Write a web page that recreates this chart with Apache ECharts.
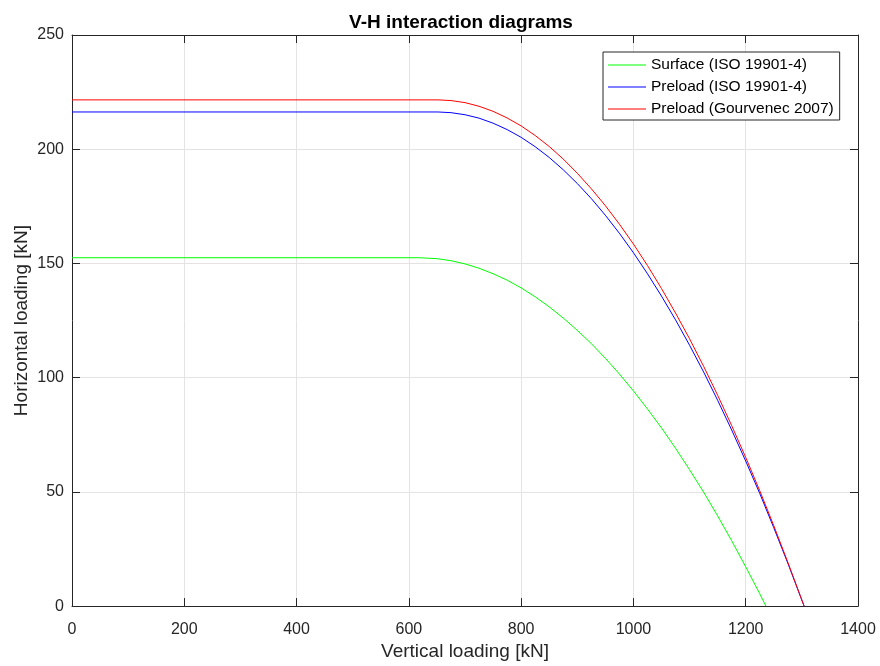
<!DOCTYPE html>
<html>
<head>
<meta charset="utf-8">
<script src="https://cdn.jsdelivr.net/npm/echarts@6/dist/echarts.min.js"></script>
<style>html,body{margin:0;padding:0;background:#fff}#c{width:880px;height:666px}</style>
</head>
<body>
<div id="c"></div>
<script>
// Values
var xTicks = [0, 200, 400, 600, 800, 1000, 1200, 1400];
var yTicks = [0, 50, 100, 150, 200, 250];

var surfaceV = [0, 618, 650, 675, 700, 725, 750, 775, 800, 825, 850, 875, 900, 925, 950, 975, 1000, 1025, 1050, 1075, 1100, 1125, 1150, 1175, 1200, 1225, 1236];
var surfaceH = [152.5, 152.5, 152.1, 151.2, 149.8, 147.9, 145.5, 142.7, 139.3, 135.4, 131.0, 126.1, 120.7, 114.9, 108.5, 101.6, 94.2, 86.3, 78.0, 69.1, 59.7, 49.9, 39.5, 28.6, 17.2, 5.4, 0];

var preloadIsoV = [0, 652, 675, 700, 725, 750, 775, 800, 825, 850, 875, 900, 925, 950, 975, 1000, 1025, 1050, 1075, 1100, 1125, 1150, 1175, 1200, 1225, 1250, 1275, 1304];
var preloadIsoH = [216.3, 216.3, 216.0, 215.1, 213.6, 211.4, 208.6, 205.2, 201.1, 196.4, 191.0, 185.0, 178.4, 171.1, 163.2, 154.7, 145.5, 135.7, 125.3, 114.2, 102.5, 90.1, 77.1, 63.5, 49.3, 34.3, 18.8, 0];

var preloadGouV = [0, 652, 675, 700, 725, 750, 775, 800, 825, 850, 875, 900, 925, 950, 975, 1000, 1025, 1050, 1075, 1100, 1125, 1150, 1175, 1200, 1225, 1250, 1275, 1304];
var preloadGouH = [221.6, 221.6, 221.3, 220.4, 218.8, 216.6, 213.7, 210.2, 206.0, 201.2, 195.7, 189.5, 182.7, 175.3, 167.2, 158.5, 149.1, 139.0, 128.3, 117.0, 105.0, 92.3, 79.0, 65.1, 50.5, 35.2, 19.2, 0];

var seriesNames = ['Surface (ISO 19901-4)', 'Preload (ISO 19901-4)', 'Preload (Gourvenec 2007)'];
var seriesColors = ['#00ff00', '#0000ff', '#ff0000'];

function pairs(xs, ys) { return xs.map(function (x, i) { return [x, ys[i]]; }); }

var FONT = 'Liberation Sans, Arial, Helvetica, sans-serif';
var TXT = '#262626';

var chart = echarts.init(document.getElementById('c'), null, {renderer: 'canvas'});
var xMin = xTicks[0], xMax = xTicks[xTicks.length - 1], xInt = xTicks[1] - xTicks[0];
var yMin = yTicks[0], yMax = yTicks[yTicks.length - 1], yInt = yTicks[1] - yTicks[0];

var hiddenAxisCommon = {
  axisLabel: {show: false}, splitLine: {show: false},
  axisLine: {show: true, onZero: false, lineStyle: {color: TXT, width: 1}},
  axisTick: {show: true, inside: true, length: 8, lineStyle: {color: TXT}}
};

chart.setOption({
  animation: false,
  backgroundColor: '#ffffff',
  textStyle: {fontFamily: FONT},
  title: {
    text: 'V-H interaction diagrams', left: 456, top: 8, textAlign: 'center',
    textStyle: {fontFamily: FONT, fontSize: 19, fontWeight: 'bold', color: '#000'}
  },
  legend: {
    left: 603, top: 52, orient: 'vertical',
    data: seriesNames.map(function (n, i) { return {name: n, icon: 'rect', itemStyle: {color: seriesColors[i]}}; }),
    itemWidth: 38, itemHeight: 1.2, itemGap: 6,
    padding: [5, 6, 3, 5],
    backgroundColor: '#fff', borderColor: TXT, borderWidth: 1,
    textStyle: {fontFamily: FONT, fontSize: 15.5, lineHeight: 16, color: '#000'}
  },
  grid: {left: 72, right: 22, top: 35, bottom: 56, show: false},
  xAxis: [{
    type: 'value', min: xMin, max: xMax, interval: xInt, position: 'bottom',
    name: 'Vertical loading [kN]', nameLocation: 'middle', nameGap: 34,
    nameTextStyle: {fontFamily: FONT, fontSize: 19, color: TXT},
    axisLine: {show: true, onZero: false, lineStyle: {color: TXT, width: 1}},
    axisTick: {show: true, inside: true, length: 8, lineStyle: {color: TXT}},
    axisLabel: {fontFamily: FONT, fontSize: 16, color: TXT, margin: 15, formatter: function (v) { return String(v); }},
    splitLine: {show: true, lineStyle: {color: '#e3e3e3', width: 1}}
  }, Object.assign({type: 'value', min: xMin, max: xMax, interval: xInt, position: 'top'}, hiddenAxisCommon)],
  yAxis: [{
    type: 'value', min: yMin, max: yMax, interval: yInt, position: 'left',
    name: 'Horizontal loading [kN]', nameLocation: 'middle', nameGap: 41, nameMoveOverlap: false,
    nameTextStyle: {fontFamily: FONT, fontSize: 19, color: TXT},
    axisLine: {show: true, onZero: false, lineStyle: {color: TXT, width: 1}},
    axisTick: {show: true, inside: true, length: 8, lineStyle: {color: TXT}},
    axisLabel: {fontFamily: FONT, fontSize: 16, color: TXT, margin: 8},
    splitLine: {show: true, lineStyle: {color: '#e3e3e3', width: 1}}
  }, Object.assign({type: 'value', min: yMin, max: yMax, interval: yInt, position: 'right'}, hiddenAxisCommon)],
  series: [
    {name: seriesNames[0], type: 'line', data: pairs(surfaceV, surfaceH)},
    {name: seriesNames[1], type: 'line', data: pairs(preloadIsoV, preloadIsoH)},
    {name: seriesNames[2], type: 'line', data: pairs(preloadGouV, preloadGouH)}
  ].map(function (s, i) {
    s.showSymbol = false; s.symbol = 'none';
    s.lineStyle = {color: seriesColors[i], width: 1};
    s.itemStyle = {color: seriesColors[i]};
    s.xAxisIndex = 0; s.yAxisIndex = 0;
    return s;
  })
});
</script>
</body>
</html>
